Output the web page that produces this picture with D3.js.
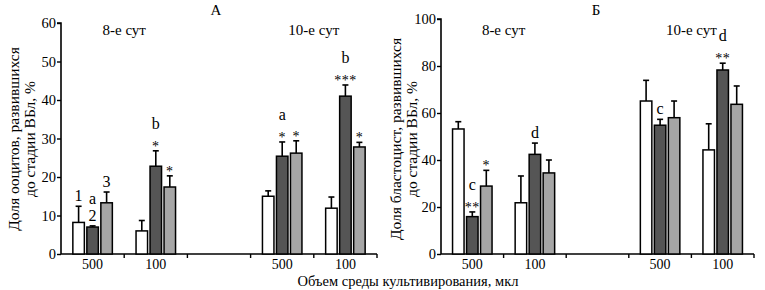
<!DOCTYPE html>
<html>
<head>
<meta charset="utf-8">
<script src="https://cdn.jsdelivr.net/npm/d3@7"></script>
</head>
<body style="margin:0;background:#fff">
<svg id="chart" width="765" height="290"></svg>
<script>
// slots along the x axis: 8th day (500, 100), empty gap, 10th day (500, 100)
const slots = ['8_500', '8_100', 'gap', '10_500', '10_100'];
const slotLabels = ['500', '100', '', '500', '100'];
const dayLabels = ['8-е сут', '10-е сут'];
const seriesColors = ['#ffffff', '#555555', '#a6a6a6'];

// panel A: oocytes reaching blastocyst stage, %
const aWhite = [8.2, 6.0, null, 15.0, 11.9];
const aWhiteErr = [12.4, 8.7, null, 16.4, 14.8];
const aDark = [7.0, 22.8, null, 25.4, 41.0];
const aDarkErr = [7.3, 26.8, null, 29.1, 43.9];
const aGrey = [13.3, 17.4, null, 26.2, 27.8];
const aGreyErr = [16.1, 20.3, null, 29.4, 29.0];
const aNotes = [
  { slot: '8_500', s: 0, lines: ['1'] },
  { slot: '8_500', s: 1, lines: ['2', 'a'] },
  { slot: '8_500', s: 2, lines: ['3'] },
  { slot: '8_100', s: 1, lines: ['*', 'b'] },
  { slot: '8_100', s: 2, lines: ['*'] },
  { slot: '10_500', s: 1, lines: ['*', 'a'] },
  { slot: '10_500', s: 2, lines: ['*'] },
  { slot: '10_100', s: 1, lines: ['***', 'b'] },
  { slot: '10_100', s: 2, lines: ['*'] }
];

// panel B: blastocysts, %
const bWhite = [53.2, 21.8, null, 65.1, 44.3];
const bWhiteErr = [56.3, 33.2, null, 73.9, 55.4];
const bDark = [15.9, 42.4, null, 54.8, 78.3];
const bDarkErr = [17.9, 47.2, null, 57.3, 81.2];
const bGrey = [28.9, 34.5, null, 58.0, 63.7];
const bGreyErr = [35.6, 40.0, null, 65.1, 71.5];
const bNotes = [
  { slot: '8_500', s: 1, lines: ['**', 'c'] },
  { slot: '8_500', s: 2, lines: ['*'] },
  { slot: '8_100', s: 1, lines: ['d'] },
  { slot: '10_500', s: 1, lines: ['c'] },
  { slot: '10_100', s: 1, lines: ['**', 'd'] }
];

const FONT = 'Liberation Serif';
const svg = d3.select('#chart').attr('font-family', FONT);

const drawPanel = (p) => {
  const x = d3.scaleBand().domain(slots).range([p.x0, p.x1]);
  const y = d3.scaleLinear().domain([0, p.yMax]).range([254, p.yTop]);
  const g = svg.append('g');

  // y axis
  const yAxis = d3.axisLeft(y).tickValues(p.yTicks).tickSize(4).tickPadding(1);
  g.append('g')
    .attr('transform', `translate(${p.x0},0)`)
    .call(yAxis)
    .attr('font-family', FONT)
    .attr('font-size', 14.5)
    .call(a => a.select('.domain').attr('stroke', '#000').attr('stroke-width', 1.6).attr('d', `M-4,${p.yTop}H0V254`))
    .call(a => a.selectAll('.tick line').attr('stroke-width', 1.4))
    .call(a => a.selectAll('.tick text').attr('fill', '#000'));

  // x axis: ticks at slot boundaries, labels at slot centres
  g.append('line')
    .attr('x1', p.x0).attr('x2', p.x1)
    .attr('y1', 254).attr('y2', 254)
    .attr('stroke', '#000').attr('stroke-width', 1.6);
  g.selectAll('.xt')
    .data(slots)
    .enter().append('line')
    .attr('x1', d => x(d) + x.bandwidth()).attr('x2', d => x(d) + x.bandwidth())
    .attr('y1', 254).attr('y2', 258)
    .attr('stroke', '#000').attr('stroke-width', 1.4);
  g.selectAll('.xl')
    .data(slots)
    .enter().append('text')
    .attr('x', d => x(d) + x.bandwidth() / 2)
    .attr('y', 269)
    .attr('text-anchor', 'middle')
    .attr('font-family', FONT)
    .attr('font-size', 14)
    .text((d, i) => slotLabels[i]);

  // bars
  const bw = 11.5, step = 14;
  const bx = (slot, s) => x(slot) + x.bandwidth() / 2 + (s - 1) * step - bw / 2;
  p.series.forEach((vals, s) => {
    const errs = p.errs[s];
    const data = slots.map((d, i) => ({ slot: d, v: vals[i], e: errs[i] })).filter(d => d.v !== null);
    g.append('g').selectAll('line')
      .data(data)
      .enter().append('line')
      .attr('x1', d => bx(d.slot, s) + bw / 2).attr('x2', d => bx(d.slot, s) + bw / 2)
      .attr('y1', d => y(d.v)).attr('y2', d => y(d.e))
      .attr('stroke', '#000').attr('stroke-width', 1.6);
    g.append('g').selectAll('line')
      .data(data)
      .enter().append('line')
      .attr('x1', d => bx(d.slot, s) + bw / 2 - 3).attr('x2', d => bx(d.slot, s) + bw / 2 + 3)
      .attr('y1', d => y(d.e)).attr('y2', d => y(d.e))
      .attr('stroke', '#000').attr('stroke-width', 1.6);
    g.append('g').selectAll('rect')
      .data(data)
      .enter().append('rect')
      .attr('x', d => bx(d.slot, s))
      .attr('y', d => y(d.v))
      .attr('width', bw)
      .attr('height', d => y(0) - y(d.v))
      .attr('fill', seriesColors[s])
      .attr('stroke', '#000')
      .attr('stroke-width', 1.5);
  });

  // significance marks
  p.notes.forEach(n => {
    const i = slots.indexOf(n.slot);
    const cap = y(p.errs[n.s][i]);
    n.lines.forEach((t, k) => {
      const star = t.startsWith('*');
      g.append('text')
        .attr('x', bx(n.slot, n.s) + bw / 2)
        .attr('y', cap - (star ? 0 : 5) - 17 * k)
        .attr('text-anchor', 'middle')
        .attr('font-family', FONT)
        .attr('font-size', star ? 14 : 16)
        .attr('letter-spacing', star ? 0.5 : 0)
        .text(t);
    });
  });

  // day titles
  g.append('text')
    .attr('x', (x('8_500') + x('8_100') + x.bandwidth()) / 2)
    .attr('y', 35).attr('text-anchor', 'middle')
    .attr('font-family', FONT).attr('font-size', 15)
    .text(dayLabels[0]);
  g.append('text')
    .attr('x', (x('10_500') + x('10_100') + x.bandwidth()) / 2)
    .attr('y', 35).attr('text-anchor', 'middle')
    .attr('font-family', FONT).attr('font-size', 15)
    .text(dayLabels[1]);

  // panel letter
  g.append('text')
    .attr('x', p.letterX).attr('y', 15)
    .attr('text-anchor', 'middle')
    .attr('font-family', FONT).attr('font-size', 15)
    .text(p.letter);

  // y label
  p.yLabel.forEach((t, k) => {
    g.append('text')
      .attr('transform', `translate(${p.labelX + k * 16},139) rotate(-90)`)
      .attr('text-anchor', 'middle')
      .attr('font-family', FONT)
      .attr('font-size', 15.5)
      .text(t);
  });
};

drawPanel({
  x0: 61, x1: 377, yMax: 60, yTop: 23, yTicks: [0, 10, 20, 30, 40, 50, 60],
  series: [aWhite, aDark, aGrey], errs: [aWhiteErr, aDarkErr, aGreyErr], notes: aNotes,
  letter: 'А', letterX: 216,
  labelX: 19, yLabel: ['Доля ооцитов, развившихся', 'до стадии ВБл, %']
});

drawPanel({
  x0: 441, x1: 754, yMax: 100, yTop: 19, yTicks: [0, 20, 40, 60, 80, 100],
  series: [bWhite, bDark, bGrey], errs: [bWhiteErr, bDarkErr, bGreyErr], notes: bNotes,
  letter: 'Б', letterX: 596,
  labelX: 401, yLabel: ['Доля бластоцист, развившихся', 'до стадии ВБл, %']
});

svg.append('text')
  .attr('x', 408).attr('y', 286)
  .attr('text-anchor', 'middle')
  .attr('font-family', FONT)
  .attr('font-size', 14.5)
  .text('Объем среды культивирования, мкл');
</script>
</body>
</html>
